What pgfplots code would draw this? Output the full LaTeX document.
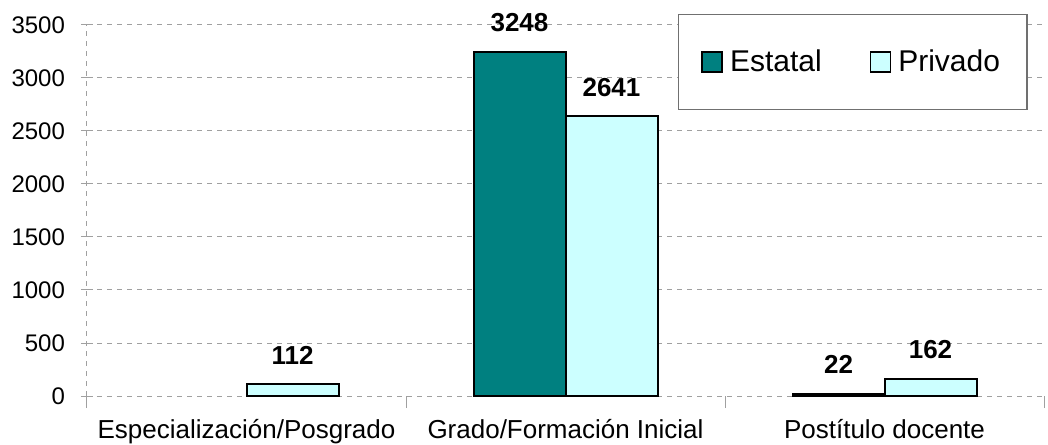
\documentclass[border=0pt]{standalone}
\usepackage{pgfplots}
\pgfplotsset{compat=1.18}
\usepackage{fontspec}
\setmainfont{Liberation Sans}
\definecolor{estatal}{HTML}{008080}
\definecolor{privado}{HTML}{CCFFFF}
\definecolor{gridc}{HTML}{A0A0A0}
\definecolor{legc}{HTML}{707070}
\begin{document}
\begin{tikzpicture}
\begin{axis}[
  name=ax,
  width=478.5pt, height=185.5pt, scale only axis,
  ybar=0pt, bar width=46pt,
  xmin=-0.5, xmax=2.5, ymin=0, ymax=3500,
  clip=false,
  xtick={0,1,2},
  xticklabels={Especialización/Posgrado, Grado/Formación Inicial, Postítulo docente},
  x tick label style={font=\fontsize{13}{15}\selectfont, yshift=-5pt},
  major x tick style={draw=none},
  minor xtick={-0.5,0.5,1.5,2.5},
  minor x tick style={gridc, line width=0.5pt, yshift=-3pt},
  minor tick length=6pt,
  ytick={0,500,...,3500},
  y tick label style={font=\fontsize{12}{14}\selectfont, xshift=-4.5pt},
  /pgf/number format/assume math mode=true,
  /pgf/number format/1000 sep={},
  y tick style={gridc, line width=0.5pt},
  tick align=center, major tick length=6pt,
  ymajorgrids,
  grid style={gridc, line width=0.5pt, dash pattern=on 2.5pt off 2.5pt},
  axis x line*=bottom, axis y line*=left,
  axis line style={gridc, line width=0.5pt, dash pattern=on 2.5pt off 2.5pt, -},
  nodes near coords,
  every node near coord/.append style={font=\bfseries\fontsize{13}{15}\selectfont, anchor=base, yshift=10pt, text=black},
  legend columns=2,
  legend style={at={(axis description cs:0.983,1.03)}, anchor=north east,
    draw=legc, line width=0.7pt, font=\fontsize{15}{18}\selectfont,
    inner xsep=11.5pt, inner ysep=15.5pt,
    /tikz/every odd column/.append style={column sep=1.5pt},
    /tikz/every even column/.append style={column sep=22pt}},
  legend image code/.code={\draw[#1, draw=black, line width=0.8pt] (0pt,-5pt) rectangle (10pt,5pt);},
]
\addplot[fill=estatal, draw=black, line width=1pt] coordinates {(1,3248) (2,22)};
\addplot[fill=privado, draw=black, line width=1pt] coordinates {(0,112) (1,2641) (2,162)};
\legend{Estatal, Privado}
\end{axis}
\pgfresetboundingbox
\path[use as bounding box] ([xshift=-43.5pt,yshift=-24pt]ax.south west) rectangle ([xshift=2pt,yshift=12.5pt]ax.north east);
\end{tikzpicture}
\end{document}
